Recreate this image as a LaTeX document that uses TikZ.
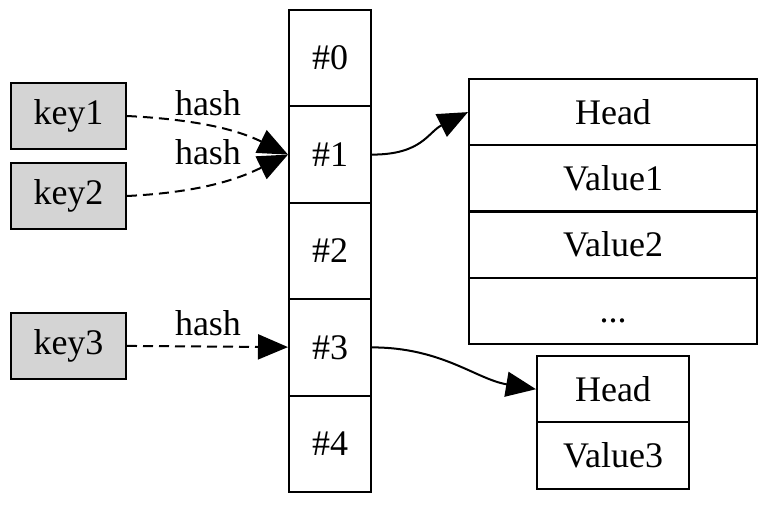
\documentclass[tikz,border=0pt]{standalone}
\usepackage{fontspec}
\setmainfont{Liberation Serif}
\usetikzlibrary{arrows.meta}

\begin{document}
\begin{tikzpicture}
[x=1pt,y=-1pt,line width=2pt,
every node/.style={font=\fontsize{36}{43}\selectfont,inner sep=0pt},
keybox/.style={draw,fill=black!17,minimum width=115pt,minimum height=66pt},
cell/.style={draw,minimum width=82pt,minimum height=96.4pt},
row/.style={draw,minimum width=288pt,minimum height=66.3pt},
smallrow/.style={draw,minimum width=152pt,minimum height=66.5pt},
hashto/.style={dash pattern=on 10pt off 6pt,-{Triangle[length=30pt,width=25pt]}},
pointer/.style={-{Triangle[length=30pt,width=25pt]}}]
\useasboundingbox (0,0) rectangle (768,504);
\node[keybox] (k1) at (68.5,116) {key1};
\node[keybox] (k2) at (68.5,196) {key2};
\node[keybox] (k3) at (68.5,345.5) {key3};
\node[cell] (c0) at (330,58.2) {\#0};
\node[cell] (c1) at (330,154.6) {\#1};
\node[cell] (c2) at (330,251) {\#2};
\node[cell] (c3) at (330,347.4) {\#3};
\node[cell] (c4) at (330,443.8) {\#4};
\node[row] (h1) at (613,112.1) {Head};
\node[row] (v1) at (613,178.4) {Value1};
\node[row] (v2) at (613,244.6) {Value2};
\node[row] (v3) at (613,311) {\vphantom{H}...};
\node[smallrow] (h2) at (613,389.2) {Head};
\node[smallrow] (v4) at (613,455.7) {Value3};
\node (l1) at (208,103) {hash};
\node (l2) at (208,152) {hash};
\node (l3) at (208,323) {hash};
\draw[hashto] (k1.east) .. controls +(80,4) and +(-45,-22) .. (c1.west);
\draw[hashto] (k2.east) .. controls +(80,-4) and +(-45,22) .. (c1.west);
\draw[hashto] (k3) -- (c3);
\draw[pointer] (c1.east) .. controls +(50,0) and +(-40,20) .. (h1.west);
\draw[pointer] (c3.east) .. controls +(70,0) and +(-60,-10) .. (h2.west);
\end{tikzpicture}
\end{document}
